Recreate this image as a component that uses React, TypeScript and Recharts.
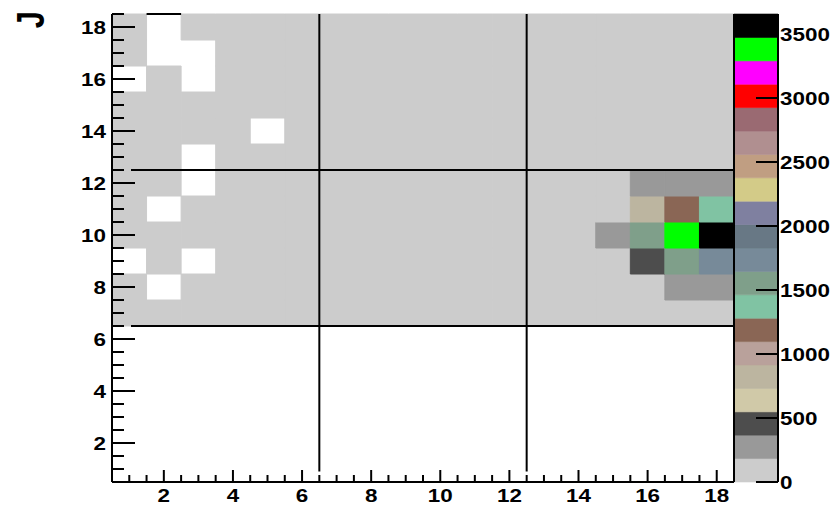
import { ComposedChart, XAxis, YAxis, ReferenceArea, ReferenceLine, Scatter } from "recharts";

// bin centres along both axes
const xBins = [1, 2, 3, 4, 5, 6, 7, 8, 9, 10, 11, 12, 13, 14, 15, 16, 17, 18];

// counts per row (y = 1 .. 18), one entry per x bin
const emptyRow = [0, 0, 0, 0, 0, 0, 0, 0, 0, 0, 0, 0, 0, 0, 0, 0, 0, 0];
const row7 = [80, 90, 100, 105, 110, 115, 120, 125, 130, 120, 135, 130, 140, 145, 150, 155, 160, 150];
const row8 = [95, 0, 110, 125, 120, 135, 140, 130, 145, 140, 150, 155, 160, 165, 170, 180, 290, 280];
const row9 = [0, 100, 0, 120, 125, 130, 135, 140, 145, 150, 145, 155, 150, 165, 175, 460, 1540, 1730];
const row10 = [90, 110, 120, 115, 130, 125, 140, 135, 150, 145, 155, 150, 160, 170, 270, 1550, 3380, 3650];
const row11 = [100, 0, 115, 125, 120, 135, 130, 145, 140, 150, 155, 145, 160, 165, 175, 820, 1190, 1370];
const row12 = [95, 105, 0, 120, 130, 125, 140, 135, 145, 150, 140, 155, 150, 160, 170, 280, 300, 290];
const row13 = [85, 110, 0, 115, 125, 120, 135, 140, 130, 145, 140, 150, 145, 155, 160, 175, 170, 165];
const row14 = [100, 95, 110, 120, 0, 130, 125, 140, 135, 145, 150, 140, 145, 150, 165, 175, 170, 160];
const row15 = [90, 105, 115, 125, 120, 135, 140, 130, 145, 150, 140, 145, 150, 155, 160, 170, 165, 155];
const row16 = [0, 100, 0, 120, 135, 130, 140, 145, 150, 140, 145, 150, 140, 150, 155, 165, 160, 150];
const row17 = [110, 0, 0, 130, 125, 140, 135, 150, 145, 155, 150, 140, 135, 145, 150, 160, 155, 140];
const row18 = [95, 0, 120, 140, 130, 110, 125, 135, 140, 150, 145, 130, 120, 135, 140, 150, 145, 130];
const rows = [emptyRow, emptyRow, emptyRow, emptyRow, emptyRow, emptyRow, row7, row8, row9, row10, row11, row12, row13, row14, row15, row16, row17, row18];

// colour contours (20 levels) and palette
const levels = [0, 183, 366, 548, 731, 914, 1097, 1280, 1462, 1645, 1828, 2011, 2194, 2376, 2559, 2742, 2925, 3108, 3290, 3473, 3656];
const palette = [
  "#cccccc", "#999999", "#4d4d4d", "#d0c9a8", "#bcb5a0", "#b9a19b", "#8a6655", "#80c3a3", "#7f9f8a", "#778a99",
  "#687885", "#7f80a0", "#d3cb88", "#c09e82", "#b08f90", "#9a6a72", "#ff0000", "#ff00ff", "#00ff00", "#000000",
];

// axis ticks
const xTicks = [1, 1.5, 2, 2.5, 3, 3.5, 4, 4.5, 5, 5.5, 6, 6.5, 7, 7.5, 8, 8.5, 9, 9.5, 10, 10.5, 11, 11.5, 12, 12.5, 13, 13.5, 14, 14.5, 15, 15.5, 16, 16.5, 17, 17.5, 18];
const yTicks = [1, 1.5, 2, 2.5, 3, 3.5, 4, 4.5, 5, 5.5, 6, 6.5, 7, 7.5, 8, 8.5, 9, 9.5, 10, 10.5, 11, 11.5, 12, 12.5, 13, 13.5, 14, 14.5, 15, 15.5, 16, 16.5, 17, 17.5, 18, 18.5];
const axisLabels = [2, 4, 6, 8, 10, 12, 14, 16, 18];
const zTicks = [0, 500, 1000, 1500, 2000, 2500, 3000, 3500];

// sector boundaries drawn as black lines
const sectorEdges = [6.5, 12.5];
const lineStart = { x: 1.05, y: 0.9 };

const W = 837;
const H = 505;
const font = { fontFamily: "Liberation Sans, Arial, sans-serif", fontWeight: 700, fontSize: 19, fill: "#000" };

const colorOf = (v: number) => {
  for (let i = 0; i < palette.length; i++) if (v < levels[i + 1]) return palette[i];
  return palette[palette.length - 1];
};

const cells = rows.flatMap((r, yi) => r.map((v, xi) => ({ x: xBins[xi], y: yi + 1, v }))).filter((c) => c.v > 0);
const topGaps = xBins.filter((_, i) => row18[i] === 0);
const bands = palette.map((c, i) => ({ x: 0.5, lo: levels[i], hi: levels[i + 1], c }));

const XTick = ({ x, y, payload }: any) => {
  const major = axisLabels.includes(payload.value);
  return (
    <g>
      <line x1={x} x2={x} y1={y} y2={y - (major ? 12 : 7)} stroke="#000" strokeWidth={2} />
      {major && (
        <text transform={`translate(${x},${y + 20}) scale(1.18,1)`} textAnchor="middle" {...font}>
          {payload.value}
        </text>
      )}
    </g>
  );
};

const YTick = ({ x, y, payload }: any) => {
  const major = axisLabels.includes(payload.value);
  return (
    <g>
      <line x1={x} x2={x + (major ? 23 : 12)} y1={y} y2={y} stroke="#000" strokeWidth={2} />
      {major && (
        <text transform={`translate(${x - 6},${y + 7}) scale(1.18,1)`} textAnchor="end" {...font}>
          {payload.value}
        </text>
      )}
    </g>
  );
};

const ZTick = ({ x, y, payload }: any) => (
  <g>
    <line x1={x} x2={x - 22} y1={y} y2={y} stroke="#000" strokeWidth={2} />
    <text transform={`translate(${x + 2},${y + 7}) scale(1.18,1)`} textAnchor="start" {...font}>
      {payload.value}
    </text>
  </g>
);

const TitleLabel = () => (
  <text transform="translate(44,11) scale(1.25,1) rotate(-90)" textAnchor="end" {...font} fontSize={31}>
    J
  </text>
);

export default function App() {
  return (
    <div style={{ position: "relative", width: W, height: H }}>
      <style>{"body{margin:0}"}</style>
      <div style={{ position: "absolute", left: 0, top: 0 }}>
        <ComposedChart width={W} height={H} data={cells} margin={{ top: 14, right: 103, bottom: 0, left: 0 }}>
          <XAxis
            dataKey="x"
            type="number"
            domain={[0.5, 18.5]}
            ticks={xTicks}
            interval={0}
            height={23}
            tickSize={0}
            tickMargin={0}
            tick={<XTick />}
            tickLine={false}
            axisLine={{ stroke: "#000", strokeWidth: 2 }}
            allowDataOverflow
          />
          <YAxis
            dataKey="y"
            type="number"
            domain={[0.5, 18.5]}
            ticks={yTicks}
            interval={0}
            width={112}
            tickSize={0}
            tickMargin={0}
            tick={<YTick />}
            tickLine={false}
            axisLine={{ stroke: "#000", strokeWidth: 2 }}
            label={<TitleLabel />}
            allowDataOverflow
          />
          {cells.map((c) => (
            <ReferenceArea
              key={`${c.x}-${c.y}`}
              x1={c.x - 0.5}
              x2={c.x + 0.5}
              y1={c.y - 0.5}
              y2={c.y + 0.5}
              fill={colorOf(c.v)}
              fillOpacity={1}
              stroke={colorOf(c.v)}
              strokeWidth={1}
              ifOverflow="visible"
            />
          ))}
          {topGaps.map((x) => (
            <ReferenceLine
              key={`top-${x}`}
              segment={[{ x: x - 0.5, y: 18.5 }, { x: x + 0.5, y: 18.5 }]}
              stroke="#000"
              strokeWidth={2}
              ifOverflow="visible"
            />
          ))}
          {sectorEdges.map((e) => (
            <ReferenceLine
              key={`v-${e}`}
              segment={[{ x: e, y: lineStart.y }, { x: e, y: 18.5 }]}
              stroke="#000"
              strokeWidth={2}
              ifOverflow="visible"
            />
          ))}
          {sectorEdges.map((e) => (
            <ReferenceLine
              key={`h-${e}`}
              segment={[{ x: lineStart.x, y: e }, { x: 18.5, y: e }]}
              stroke="#000"
              strokeWidth={2}
              ifOverflow="visible"
            />
          ))}
          <Scatter dataKey="y" isAnimationActive={false} shape={() => null} />
        </ComposedChart>
      </div>
      <div style={{ position: "absolute", left: 0, top: 0 }}>
        <ComposedChart width={W} height={H} data={bands} margin={{ top: 14, right: 0, bottom: 23, left: 734 }}>
          <XAxis type="number" dataKey="x" domain={[0, 1]} hide />
          <YAxis
            type="number"
            dataKey="hi"
            orientation="right"
            domain={[0, levels[levels.length - 1]]}
            ticks={zTicks}
            interval={0}
            width={59}
            tickSize={0}
            tickMargin={0}
            tick={<ZTick />}
            tickLine={false}
            axisLine={{ stroke: "#000", strokeWidth: 2 }}
            allowDataOverflow
          />
          {bands.map((b) => (
            <ReferenceArea
              key={b.c}
              x1={0}
              x2={1}
              y1={b.lo}
              y2={b.hi}
              fill={b.c}
              fillOpacity={1}
              stroke={b.c}
              strokeWidth={0.6}
              ifOverflow="visible"
            />
          ))}
          <ReferenceLine x={0} stroke="#000" strokeWidth={2} ifOverflow="visible" />
          <Scatter dataKey="hi" isAnimationActive={false} shape={() => null} />
        </ComposedChart>
      </div>
    </div>
  );
}
